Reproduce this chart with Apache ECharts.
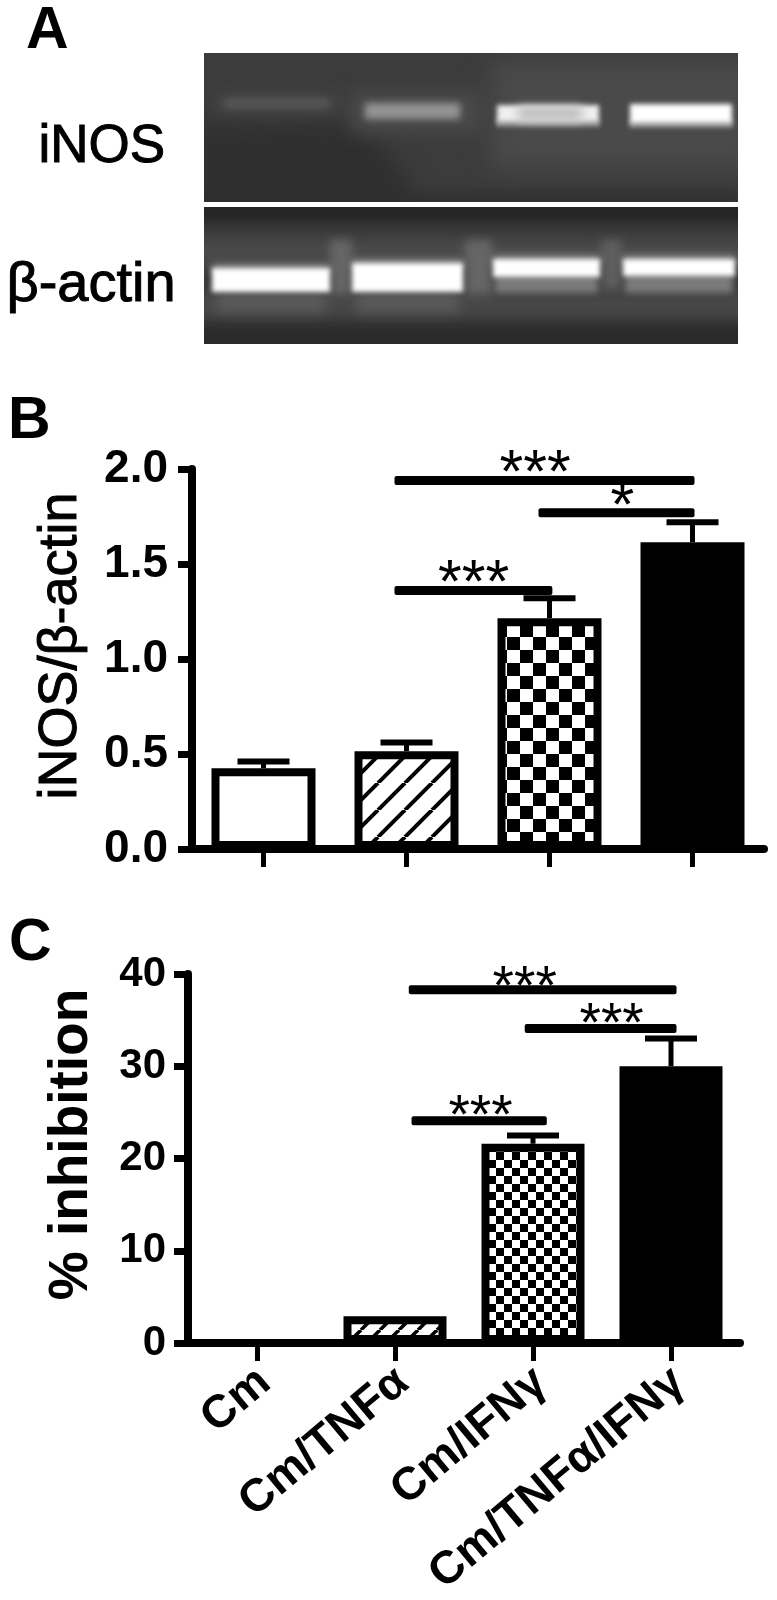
<!DOCTYPE html>
<html><head><meta charset="utf-8">
<style>html,body{margin:0;padding:0;background:#fff}#c{width:777px;height:1600px}</style>
<script src="https://cdn.jsdelivr.net/npm/echarts@6/dist/echarts.min.js"></script>
</head><body><div id="c"></div>
<script>
// ---------- data ----------
const categories = ['Cm', 'Cm/TNFα', 'Cm/IFNγ', 'Cm/TNFα/IFNγ'];
const iNOSRatio = [0.425, 0.515, 1.215, 1.615];
const iNOSRatioTop = [0.46, 0.56, 1.32, 1.72];
const inhibition = [0, 2.9, 21.6, 30];
const inhibitionTop = [0, 2.9, 22.5, 33];
// gel band brightness per lane (0..1)
const iNOSBand = [0.08, 0.42, 0.92, 1.0];
const actinBand = [1, 1, 1, 1];
// significance: from lane, to lane, level, stars, star-lane, star-level
const bBrackets = [
  [0.916, 3.014, 1.94, '***', 1.90, 2.03],
  [1.923, 3.014, 1.77, '*', 2.51, 1.86],
  [0.916, 2.02, 1.36, '***', 1.47, 1.455]
];
const cBrackets = [
  [1.10, 3.04, 38.3, '***', 1.94, 39.6],
  [1.94, 3.04, 34.1, '***', 2.57, 35.6],
  [1.12, 2.10, 24.1, '***', 1.62, 25.6]
];

// ---------- layout ----------
const FONT = '"Liberation Sans", Arial, sans-serif';
const gelBox = {x0: 204, x1: 738, y0: 53, y1: 344, split: 202, split2: 207};
const lanesUpper = [[223,330,98,109],[364,461,103,119],[496,600,105,122],[629,733,104,123]];
const lanesLower = [[212,330,268,292],[352,463,263,292],[493,600,259,277],[623,735,259,276]];

function pattern(size, draw) {
  const c = document.createElement('canvas');
  c.width = c.height = size;
  const g = c.getContext('2d');
  g.fillStyle = '#fff'; g.fillRect(0, 0, size, size);
  g.fillStyle = '#000'; g.strokeStyle = '#000';
  draw(g, size);
  return {image: c, repeat: 'repeat'};
}
const checker = (n) => pattern(n * 2, (g) => { g.fillRect(0, 0, n, n); g.fillRect(n, n, n, n); });
const hatch = (n, w) => pattern(n, (g, s) => {
  g.lineWidth = w;
  for (let k = -1; k <= 1; k++) {
    g.beginPath(); g.moveTo(k * s, s); g.lineTo(k * s + s, 0); g.stroke();
  }
});
const bFills = ['#fff', hatch(27, 4), checker(13), '#000'];
const cFills = ['#fff', hatch(19, 3.5), checker(8), '#000'];
const barData = (vals, fills) => vals.map((v, i) => ({value: v, itemStyle: {color: fills[i]}}));

function errorRender(p, api) {
  const i = api.value(0);
  const base = api.coord([i, api.value(1)]);
  const top = api.coord([i, api.value(2)]);
  if (api.value(2) <= api.value(1)) return {type: 'group', children: []};
  const s = {fill: '#000'};
  return {type: 'group', children: [
    {type: 'rect', shape: {x: base[0] - 2.5, y: top[1], width: 5, height: base[1] - top[1]}, style: s},
    {type: 'rect', shape: {x: base[0] - 26, y: top[1] - 3, width: 52, height: 6}, style: s}
  ]};
}
function bracketRender(fontSize) {
  return function (p, api) {
    const a = api.coord([api.value(0), api.value(2)]);
    const b = api.coord([api.value(1), api.value(2)]);
    const t = api.coord([api.value(4), api.value(5)]);
    return {type: 'group', children: [
      {type: 'rect', shape: {x: a[0], y: a[1] - 4.5, width: b[0] - a[0], height: 9, r: 2}, style: {fill: '#000'}},
      {type: 'text', x: t[0], y: t[1] + fontSize * 0.2, style: {text: api.value(3), font: fontSize + 'px ' + FONT, align: 'center', verticalAlign: 'middle', fill: '#000'}}
    ]};
  };
}

// Gel picture: painted with blur from the band brightness arrays, placed by the chart's scales.
function paintGel() {
  const b = gelBox, W = b.x1 - b.x0, H = b.y1 - b.y0;
  const c = document.createElement('canvas');
  c.width = W; c.height = H;
  const g = c.getContext('2d');
  const R = (x0, x1, y0, y1, fill, blur) => {
    g.filter = blur ? 'blur(' + blur + 'px)' : 'none';
    g.fillStyle = fill;
    g.fillRect(x0 - b.x0, y0 - b.y0, x1 - x0, y1 - y0);
    g.filter = 'none';
  };
  const clipTo = (y0, y1, fn) => {
    g.save(); g.beginPath(); g.rect(0, y0 - b.y0, W, y1 - y0); g.clip(); fn(); g.restore();
  };
  clipTo(b.y0, b.split, () => {
    R(b.x0, b.x1, b.y0, b.split, '#3c3c3c');
    R(190, 740, 190, 215, '#333333', 5);
    g.filter = 'blur(12px)'; g.fillStyle = '#2f2f2f';
    g.beginPath();
    [[190,124],[360,122],[410,180],[410,215],[190,215]].forEach((p, i) => {
      const X = p[0] - b.x0, Y = p[1] - b.y0;
      i ? g.lineTo(X, Y) : g.moveTo(X, Y);
    });
    g.closePath(); g.fill(); g.filter = 'none';
    R(490, 760, 62, 168, '#4a4a4a', 12);
    R(350, 480, 92, 132, '#4b4b4b', 9);
    R(215, 340, 92, 114, '#434343', 7);
    iNOSBand.forEach((v, i) => {
      const l = lanesUpper[i];
      const level = Math.round(70 + v * 185);
      const col = 'rgb(' + level + ',' + level + ',' + level + ')';
      if (v > 0.6) R(l[0], l[1], l[3] - 3, l[3] + 5, '#8a8a8a', 2);
      R(l[0] + 1, l[1] - 1, l[2], l[3], col, v > 0.6 ? 2.5 : 3.5);
      if (i === 2) R(l[0] + 22, l[1] - 18, l[2] + 1, l[3] - 1, '#c0c0c0', 5);
    });
  });
  clipTo(b.split2, b.y1, () => {
    R(b.x0, b.x1, b.split2, b.y1, '#383838');
    R(190, 760, 200, 222, '#262626', 5);
    R(190, 760, 238, 268, '#4a4a4a', 8);
    R(190, 760, 292, 318, '#4a4a4a', 9);
    R(190, 760, 325, 360, '#2a2a2a', 7);
    R(330, 352, 240, 295, '#666666', 5);
    R(465, 492, 240, 295, '#666666', 5);
    R(601, 622, 240, 290, '#5e5e5e', 5);
    actinBand.forEach((v, i) => {
      const l = lanesLower[i];
      const level = Math.round(70 + v * 185);
      const col = 'rgb(' + level + ',' + level + ',' + level + ')';
      if (i >= 2) R(l[0] + 2, l[1] - 2, l[3] - 3, 293, '#7a7a7a', 3);
      else R(l[0] + 4, l[1] - 4, l[3], l[3] + 20, '#5a5a5a', 6);
      R(l[0], l[1], l[2] - 3, l[2] + 3, '#9a9a9a', 4);
      R(l[0], l[1], l[2], l[3], col, 2.5);
    });
  });
  return c;
}
const gelImage = paintGel();
function gelRender(p, api) {
  const a = api.coord([gelBox.x0, gelBox.y0]), c = api.coord([gelBox.x1, gelBox.y1]);
  return {type: 'image', style: {image: gelImage, x: a[0], y: a[1], width: c[0] - a[0], height: c[1] - a[1]}};
}

const labelStyle = (size, weight) => ({fontFamily: FONT, fontSize: size, fontWeight: weight || 'bold', color: '#000'});
const xHidden = (g) => ({type: 'value', gridIndex: g, min: -0.5, max: 3.5, show: false});
const bars = (vals, fills, x, y, w) => ({type: 'bar', xAxisIndex: x, yAxisIndex: y, data: barData(vals, fills), barWidth: w,
  z: 2, itemStyle: {borderColor: '#000', borderWidth: 8}});
const catAxis = (g, showLabel) => ({type: 'category', gridIndex: g, data: categories, z: 6,
  axisLine: {show: true, onZero: false, lineStyle: {color: '#000', width: 8}},
  axisTick: {show: true, alignWithLabel: true, length: 18, lineStyle: {color: '#000', width: 5}},
  axisLabel: showLabel ? Object.assign(labelStyle(46), {show: true, rotate: 40, interval: 0, margin: 40, padding: [0, -10, 0, 0]}) : {show: false}
});
const valAxis = (g, max, interval, name, font, nameFont, gap, pad, margin, fmt) => ({type: 'value', gridIndex: g, min: 0, max, interval, z: 6,
  name, nameLocation: 'middle', nameGap: gap, nameRotate: 90, nameTextStyle: Object.assign(nameFont, {padding: [0, 0, 0, pad]}),
  splitLine: {show: false},
  axisLine: {show: true, onZero: false, lineStyle: {color: '#000', width: 8}},
  axisTick: {show: true, length: 14, lineStyle: {color: '#000', width: 7}},
  axisLabel: Object.assign(labelStyle(font), {margin, formatter: fmt})
});
const heavy = {stroke: '#000', lineWidth: 1};

const option = {
  animation: false,
  backgroundColor: '#fff',
  grid: [
    {left: gelBox.x0, top: gelBox.y0, width: gelBox.x1 - gelBox.x0, height: gelBox.y1 - gelBox.y0},
    {left: 192, top: 469, width: 572, height: 380},
    {left: 188, top: 974, width: 552, height: 369}
  ],
  xAxis: [
    {type: 'value', gridIndex: 0, min: gelBox.x0, max: gelBox.x1, show: false},
    catAxis(1, false), xHidden(1),
    catAxis(2, true), xHidden(2)
  ],
  yAxis: [
    {type: 'value', gridIndex: 0, min: gelBox.y0, max: gelBox.y1, inverse: true, show: false},
    valAxis(1, 2, 0.5, 'iNOS/β-actin', 46, Object.assign(labelStyle(54, 'normal'), {textBorderColor: '#000', textBorderWidth: 1}), 104, 26, 24, (v) => v.toFixed(1)),
    valAxis(2, 40, 10, '% inhibition', 42, labelStyle(55, 'bold'), 89, 28, 22, (v) => String(v))
  ],
  graphic: [
    {type: 'text', left: 26, top: 2, style: {text: 'A', font: 'bold 59px ' + FONT, fill: '#000'}},
    {type: 'text', left: 8, top: 392, style: {text: 'B', font: 'bold 59px ' + FONT, fill: '#000'}},
    {type: 'text', left: 9, top: 914, style: {text: 'C', font: 'bold 59px ' + FONT, fill: '#000'}},
    {type: 'text', left: 38, top: 120, style: Object.assign({text: 'iNOS', font: '53px ' + FONT, fill: '#000'}, heavy)},
    {type: 'text', left: 6, top: 257, style: Object.assign({text: 'β-actin', font: '56px ' + FONT, fill: '#000'}, heavy)}
  ],
  series: [
    {type: 'custom', xAxisIndex: 0, yAxisIndex: 0, data: [[gelBox.x0, gelBox.y0]], renderItem: gelRender, silent: true, z: 1},
    bars(iNOSRatio, bFills, 1, 1, 104),
    {type: 'custom', xAxisIndex: 1, yAxisIndex: 1, z: 3, data: iNOSRatio.map((v, i) => [i, v, iNOSRatioTop[i]]),
      renderItem: errorRender, encode: {x: 0, y: [1, 2]}},
    {type: 'custom', xAxisIndex: 2, yAxisIndex: 1, z: 4, data: bBrackets, renderItem: bracketRender(61),
      dimensions: ['a', 'b', 'c', {name: 's', type: 'ordinal'}, 'd', 'e'], encode: {x: [0, 1], y: 2}},
    bars(inhibition, cFills, 3, 2, 103),
    {type: 'custom', xAxisIndex: 3, yAxisIndex: 2, z: 3, data: inhibition.map((v, i) => [i, v, inhibitionTop[i]]),
      renderItem: errorRender, encode: {x: 0, y: [1, 2]}},
    {type: 'custom', xAxisIndex: 4, yAxisIndex: 2, z: 4, data: cBrackets, renderItem: bracketRender(55),
      dimensions: ['a', 'b', 'c', {name: 's', type: 'ordinal'}, 'd', 'e'], encode: {x: [0, 1], y: 2}}
  ]
};
const chart = echarts.init(document.getElementById('c'), null, {renderer: 'canvas', width: 777, height: 1600});
chart.setOption(option);
</script></body></html>
